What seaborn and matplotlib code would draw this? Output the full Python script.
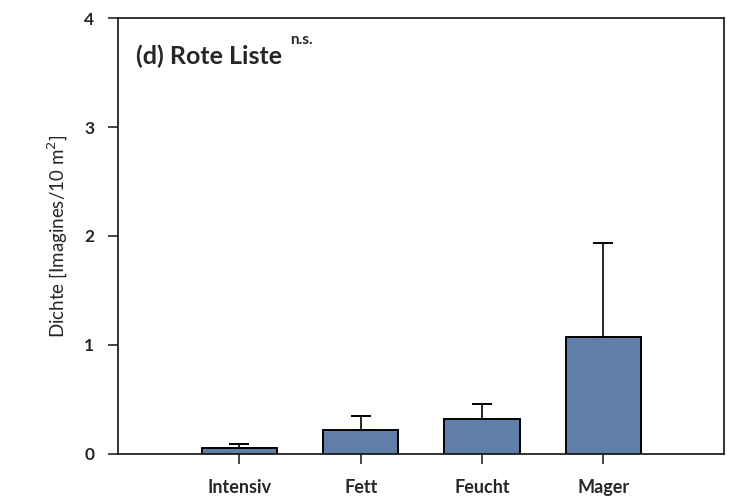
import matplotlib
matplotlib.use('Agg')
import matplotlib.pyplot as plt
import seaborn as sns
import numpy as np

# values
categories = ['Intensiv', 'Fett', 'Feucht', 'Mager']
means = [0.055, 0.22, 0.32, 1.07]
upper_err = [0.035, 0.13, 0.14, 0.87]  # only the upper half of the error bar is drawn
y_ticks = [0, 1, 2, 3, 4]

sns.set_style('ticks')
plt.rcParams['font.family'] = ['Lato', 'DejaVu Sans']

fig = plt.figure(figsize=(7.35, 4.96), dpi=100)
ax = fig.add_axes([0.1605, 0.0847, 0.824, 0.879])

sns.barplot(x=categories, y=means, color='#5f7ea8', edgecolor='black',
            linewidth=1.4, width=0.62, errorbar=None, saturation=1, ax=ax)
ax.errorbar(np.arange(len(categories)), means,
            yerr=[np.zeros(len(means)), upper_err],
            fmt='none', ecolor='black', elinewidth=1.2, capsize=7, capthick=1.4)

ax.set_xlim(-1.0, 3.99)
ax.set_ylim(0, 4)
ax.set_yticks(y_ticks)
ax.set_yticklabels([str(t) for t in y_ticks], fontsize=12.5, fontweight='bold')
ax.tick_params(axis='x', length=7, width=1.2, pad=11, labelsize=13)
ax.tick_params(axis='y', length=7, width=1.2, pad=10)
for lbl in ax.get_xticklabels():
    lbl.set_fontweight('bold')
for s in ax.spines.values():
    s.set_linewidth(1.3)
    s.set_color('#222222')

ax.set_ylabel('Dichte [Imagines/10 m$^2$]', fontsize=13.5, labelpad=10)
ax.set_xlabel('')

ax.text(0.03, 0.912, '(d) Rote Liste', transform=ax.transAxes, fontsize=18,
        fontweight='bold', ha='left', va='center')
ax.text(0.285, 0.95, 'n.s.', transform=ax.transAxes, fontsize=11,
        fontweight='bold', ha='left', va='center')

fig.savefig('out.png', dpi=100)
